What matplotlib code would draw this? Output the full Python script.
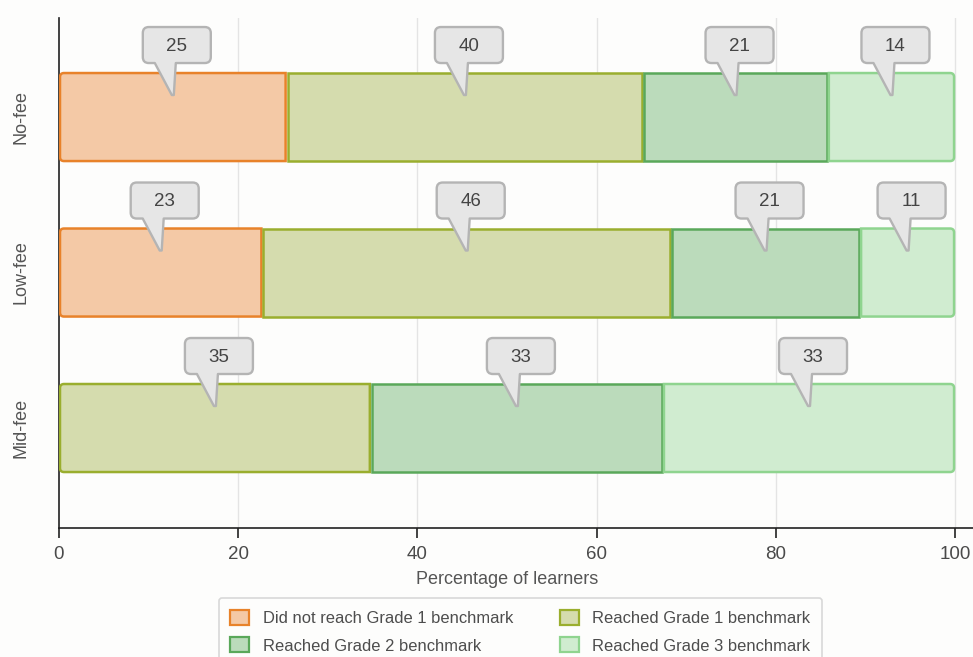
import matplotlib
matplotlib.use("Agg")
import matplotlib.pyplot as plt
import matplotlib.transforms as mtransforms
from matplotlib.path import Path
from matplotlib.patches import PathPatch, Patch

plt.rcParams["font.family"] = ["Liberation Sans", "DejaVu Sans"]

# ---- data -------------------------------------------------------------
categories = ["No-fee", "Low-fee", "Mid-fee"]
series_names = [
    "Did not reach Grade 1 benchmark",
    "Reached Grade 1 benchmark",
    "Reached Grade 2 benchmark",
    "Reached Grade 3 benchmark",
]
did_not_reach = [25.4, 22.7, 0.0]
reached_g1 = [39.8, 45.6, 34.8]
reached_g2 = [20.6, 21.1, 32.6]
reached_g3 = [14.2, 10.6, 32.6]
x_ticks = [0, 20, 40, 60, 80, 100]
x_title = "Percentage of learners"

series_values = [did_not_reach, reached_g1, reached_g2, reached_g3]

# ---- style ------------------------------------------------------------
fills = ["#f4c9a6", "#d5dcae", "#bbdbbb", "#d0ecd0"]
edges = ["#e8822a", "#9aae2e", "#5aa85a", "#8fd48f"]
bg = "#fdfdfc"
grid_col = "#e4e4e4"
text_col = "#555555"

W, H, DPI = 973, 657, 100
fig = plt.figure(figsize=(W / DPI, H / DPI), dpi=DPI, facecolor=bg)
ax_left, ax_right, ax_top, ax_bottom = 59, 973, 18, 528
ax = fig.add_axes([ax_left / W, 1 - ax_bottom / H,
                   (ax_right - ax_left) / W, (ax_bottom - ax_top) / H])
ax.set_facecolor(bg)

XMAX = 102.0
Y_TOP, Y_BOT = -0.637, 2.643
ax.set_xlim(0, XMAX)
ax.set_ylim(Y_BOT, Y_TOP)
BAR_H = 0.579

# pixels per data unit, used for corner radii and insets
sx = (ax_right - ax_left) / XMAX
sy = (ax_bottom - ax_top) / (Y_BOT - Y_TOP)


def segment_path(x0, x1, yc, h, round_left, round_right, r_px=4.0, inset_px=1.0):
    rx, ry = r_px / sx, r_px / sy
    ix, iy = inset_px / sx, inset_px / sy
    left, right = x0 + ix, x1 - ix
    top, bot = yc - h / 2 + iy, yc + h / 2 - iy
    rlx = rx if round_left else 0.0
    rly = ry if round_left else 0.0
    rrx = rx if round_right else 0.0
    rry = ry if round_right else 0.0
    verts = [(left + rlx, top), (right - rrx, top)]
    codes = [Path.MOVETO, Path.LINETO]
    if round_right:
        verts += [(right, top), (right, top + rry)]
        codes += [Path.CURVE3, Path.CURVE3]
    verts.append((right, bot - rry))
    codes.append(Path.LINETO)
    if round_right:
        verts += [(right, bot), (right - rrx, bot)]
        codes += [Path.CURVE3, Path.CURVE3]
    verts.append((left + rlx, bot))
    codes.append(Path.LINETO)
    if round_left:
        verts += [(left, bot), (left, bot - rly)]
        codes += [Path.CURVE3, Path.CURVE3]
    verts.append((left, top + rly))
    codes.append(Path.LINETO)
    if round_left:
        verts += [(left, top), (left + rlx, top)]
        codes += [Path.CURVE3, Path.CURVE3]
    verts.append((left + rlx, top))
    codes.append(Path.CLOSEPOLY)
    return Path(verts, codes)


def callout_path():
    # speech-bubble outline in pixels, tip at the origin
    L, R, B, T, r = -30.0, 38.0, 34.0, 70.0, 6.0
    verts = [
        (3, B), (R - r, B), (R, B), (R, B + r), (R, T - r), (R, T), (R - r, T),
        (L + r, T), (L, T), (L, T - r), (L, B + r), (L, B), (L + r, B),
        (-18, B), (-1, 2), (1, 2), (3, B),
    ]
    codes = [
        Path.MOVETO, Path.LINETO, Path.CURVE3, Path.CURVE3, Path.LINETO,
        Path.CURVE3, Path.CURVE3, Path.LINETO, Path.CURVE3, Path.CURVE3,
        Path.LINETO, Path.CURVE3, Path.CURVE3, Path.LINETO, Path.LINETO,
        Path.LINETO, Path.CLOSEPOLY,
    ]
    return Path(verts, codes)


BUBBLE = callout_path()


def add_callout(xd, yd, label):
    anchor = mtransforms.ScaledTranslation(xd, yd, ax.transData)
    trans = mtransforms.Affine2D().translate(0, -25) + anchor
    ax.add_patch(PathPatch(BUBBLE, transform=trans, facecolor="#e6e6e6",
                           edgecolor="#b4b4b4", lw=1.7, joinstyle="round",
                           clip_on=False, zorder=5))
    ax.text(4, 51, label, transform=trans, ha="center", va="center",
            fontsize=13.5, color="#444444", zorder=6, clip_on=False)


# ---- grid -------------------------------------------------------------
for t in x_ticks[1:]:
    ax.axvline(t, color=grid_col, lw=1.0, zorder=0)

# ---- stacked bars -----------------------------------------------------
for i, cat in enumerate(categories):
    vals = [s[i] for s in series_values]
    nonzero = [k for k, v in enumerate(vals) if v > 0]
    first, last = nonzero[0], nonzero[-1]
    start = 0.0
    for k, v in enumerate(vals):
        if v <= 0:
            continue
        end = start + v
        p = segment_path(start, end, i, BAR_H, k == first, k == last)
        ax.add_patch(PathPatch(p, facecolor=fills[k], edgecolor=edges[k],
                               lw=1.8, zorder=2))
        add_callout(start + v / 2, i - BAR_H / 2, f"{v:.0f}")
        start = end

# ---- axes -------------------------------------------------------------
for side in ("top", "right"):
    ax.spines[side].set_visible(False)
for side in ("left", "bottom"):
    ax.spines[side].set_color("#222222")
    ax.spines[side].set_linewidth(1.2)
    ax.spines[side].set_zorder(1)

ax.set_xticks(x_ticks)
ax.set_xticklabels([str(t) for t in x_ticks])
ax.tick_params(axis="x", length=7, width=1.2, color="#222222", pad=6,
               labelsize=13.5, labelcolor="#4a4a4a")
ax.set_yticks(range(len(categories)))
ax.set_yticklabels(categories, rotation=90, va="center")
ax.tick_params(axis="y", length=0, pad=21, labelsize=13, labelcolor=text_col)

ax.set_xlabel(x_title, fontsize=13, color=text_col, labelpad=8)
ax.xaxis.set_label_coords(50 / XMAX, -0.085)

# ---- legend -----------------------------------------------------------
order = [0, 2, 1, 3]
handles = [Patch(facecolor=fills[k], edgecolor=edges[k], lw=1.6,
                 label=series_names[k]) for k in order]
leg = fig.legend(handles=handles, loc="upper center",
                 bbox_to_anchor=(520.5 / W, 1 - 598 / H), ncol=2,
                 fontsize=11.9, frameon=True, fancybox=True,
                 handlelength=1.15, handleheight=1.03, handletextpad=0.8,
                 columnspacing=2.85, borderpad=0.72, labelspacing=0.68,
                 borderaxespad=0.0, labelcolor="#4d4d4d")
frame = leg.get_frame()
frame.set_edgecolor("#cfcfcf")
frame.set_facecolor(bg)
frame.set_linewidth(1.2)

fig.savefig("out.png", dpi=DPI, facecolor=bg)
